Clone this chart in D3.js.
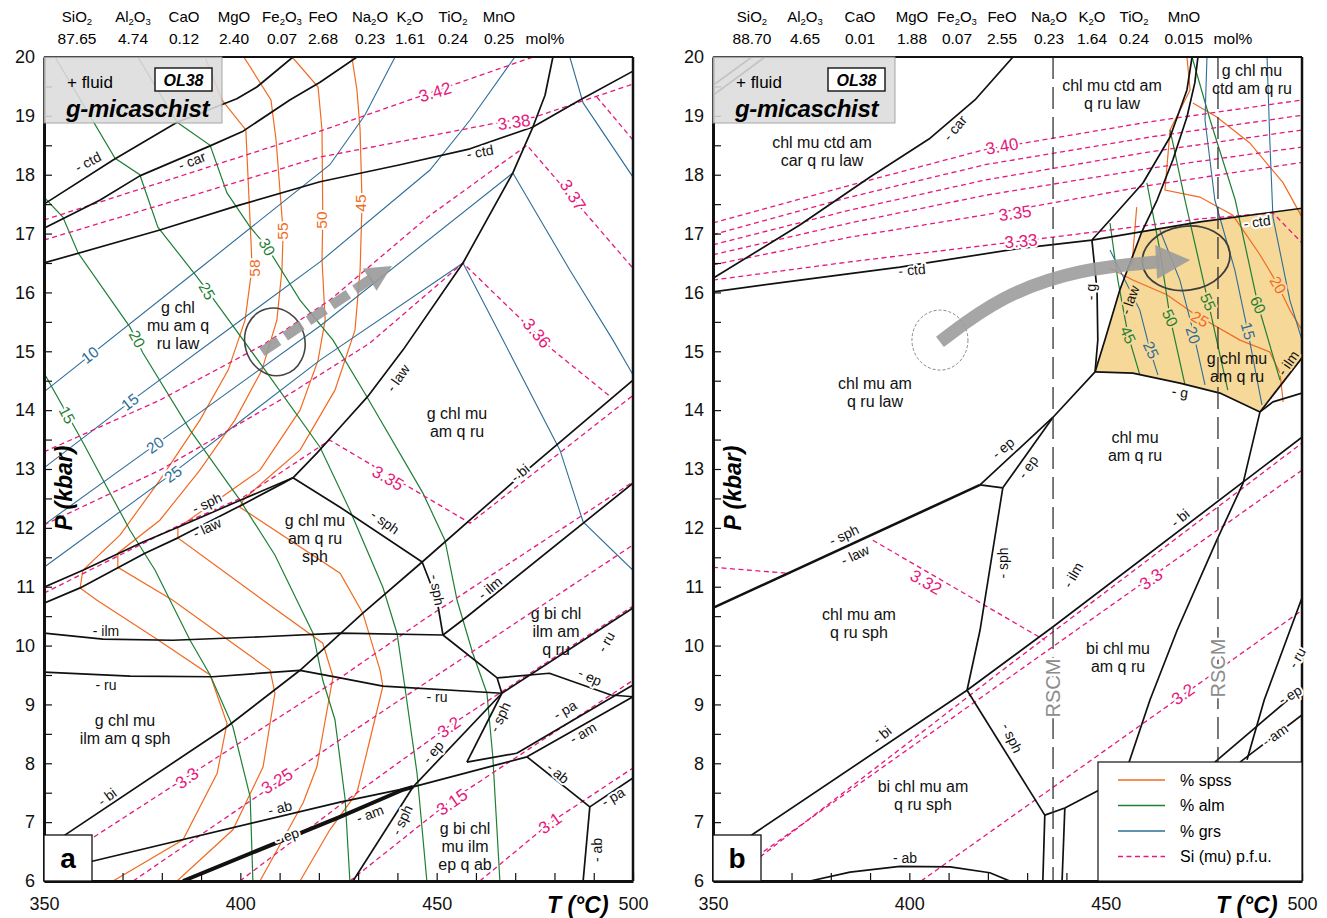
<!DOCTYPE html>
<html>
<head>
<meta charset="utf-8">
<title>OL38 pseudosections</title>
<script src="https://cdn.jsdelivr.net/npm/d3@7.9.0/dist/d3.min.js"></script>
<style>
  body { margin: 0; background: #fff; }
  text { font-family: "Liberation Sans", Arial, sans-serif; }
</style>
</head>
<body>
<svg id="chart" width="1327" height="918"></svg>
<script>
// ========== 数据：T (°C), P (kbar) ==========
const oxides = ['SiO2', 'Al2O3', 'CaO', 'MgO', 'Fe2O3', 'FeO', 'Na2O', 'K2O', 'TiO2', 'MnO'];
const compA = ['87.65', '4.74', '0.12', '2.40', '0.07', '2.68', '0.23', '1.61', '0.24', '0.25'];
const compB = ['88.70', '4.65', '0.01', '1.88', '0.07', '2.55', '0.23', '1.64', '0.24', '0.015'];
const yTicks = d3.range(6, 20.01, 0.5);
const xTicks = d3.range(350, 500.1, 10);

// ---- panel a: phase boundaries ----
const aCtdUp = [[350,17.5],[367.6,18.25],[383.9,18.89],[399.1,19.29],[404.2,19.49],[413.4,20]];
const aCar = [[350,17.09],[364.3,17.57],[374.4,17.98],[392.3,18.49],[400.7,18.74],[412.6,19.27],[420.3,19.57],[429.7,20]];
const aCtd = [[350,16.5],[379.5,17.06],[399.1,17.47],[420.3,17.88],[440.7,18.17],[458.5,18.44],[474.5,18.81],[486.5,19.27],[500,19.76]];
const aLaw = [[413.4,12.85],[419.5,13.27],[425.4,13.71],[432.3,14.22],[441.4,15.02],[456.7,16.5],[469.4,18.03],[474.5,18.81],[477.6,19.35],[479.6,20]];
const aSph1 = [[350,10.99],[359.9,11.28],[375.2,11.76],[384.1,12.01],[400.7,12.49],[413.4,12.85]];
const aLaw1 = [[350,10.72],[359.2,10.98],[375.7,11.57],[384.1,11.83],[400.4,12.39],[410.9,12.76],[413.4,12.85]];
const aSph2 = [[413.4,12.85],[425.4,12.35],[446.3,11.42]];
const aBi = [[350,6.51],[355.3,6.78],[396.6,8.62],[415.2,9.58],[431.2,10.55],[446.3,11.42],[471.2,12.88],[500,14.51]];
const aIlm1 = [[350,10.21],[365,10.11],[382.8,10.09],[405.7,10.15],[425.4,10.21],[451.6,10.18]];
const aSph3 = [[446.3,11.42],[450.1,10.77],[451.6,10.18]];
const aIlm2 = [[451.6,10.18],[457.7,10.49],[500,12.76]];
const aSeg1 = [[451.6,10.18],[465.4,9.45],[466.6,9.19]];
const aRu1 = [[350,9.55],[371.9,9.48],[393,9.47],[415.2,9.58],[425.4,9.45],[436.3,9.31],[466.6,9.19]];
const aEp1 = [[465.4,9.45],[478.7,9.53],[494.4,9.16],[500,9.13]];
const aRu2 = [[466.6,9.19],[500,10.64]];
const aSph4 = [[466.6,9.19],[457.7,8.02]];
const aSeg2 = [[457.7,8.02],[470.4,8.17]];
const aPa1 = [[470.4,8.17],[500,9.33]];
const aAm1 = [[444,7.6],[473,8.11],[500,9.13]];
const aAb1 = [[473,8.11],[489,7.26]];
const aPa2 = [[489,7.26],[500,7.75]];
const aAb2 = [[489,7.26],[487.3,6]];
const aEpAm = [[385.4,6],[425.4,7.09],[441.4,7.55],[444,7.6]];
const aAb3 = [[350,6.14],[425.4,7.34],[444,7.6]];
const aEp2 = [[444,7.6],[466.6,9.19]];
const aSph5 = [[444,7.6],[428.7,6]];

// ---- panel a: Si (mu) p.f.u. ----
const aSi342 = [[350,17.23],[420.3,18.74],[474.5,20]];
const aSi338 = [[350,16.89],[420.3,18.3],[466.1,18.89],[475,18.98],[500,19.54]];
const aSiTop = [[490.8,19.32],[500,18.59]];
const aSi337 = [[350,13.29],[379.5,14.17],[405.8,15.11],[422.8,15.87],[448.3,17.31],[473,18.5],[500,16.41]];
const aSi336 = [[350,12.05],[379.5,12.98],[410.1,14.17],[433,15.14],[456.7,16.5],[479.6,15.02],[494.6,14.21]];
const aSi335 = [[350,10.89],[384.6,12.05],[400.7,12.52],[422.8,13.49],[458.5,12.08],[500,14.25]];
const aSi33 = [[350,6.2],[425.4,9.45],[446.5,10.43],[500,12.78]];
const aSi325 = [[372.7,6],[425.4,8.4],[500,11.71]];
const aSi32 = [[399.9,6],[425.4,7.29],[452.9,8.62],[500,10.67]];
const aSi315 = [[427.9,6],[453.9,7.38],[500,9.41]];
const aSi31 = [[461,6],[478.9,6.99],[500,7.92]];

// ---- panel a: garnet isopleths ----
const aSp58 = [[391,20],[395.3,19.27],[401.4,18.76],[402.5,17.18],[403,16.43],[401.2,15.53],[396.9,14.68],[389.7,13.83],[379.5,12.81],[369.4,11.88],[359.9,11.28],[359.2,10.98],[363.5,10.77],[378.3,10.13],[392.3,9.5],[396.6,8.68],[394.1,7.83],[385.4,6.7],[367.6,6]];
const aSp55 = [[400.9,20],[407.8,19.27],[409.1,18.59],[410.9,17.03],[410.6,16.38],[409.3,15.53],[405.5,14.68],[398.6,13.83],[389.7,12.98],[379.5,12.13],[368.8,11.57],[368.8,11.33],[382.8,10.77],[407.6,9.58],[408.8,9.19],[405.8,7.94],[398.1,6.87],[383.9,6]];
const aSp50 = [[413.2,20],[419.8,19.49],[420.8,18.76],[421,17.26],[420.8,16.55],[421.6,15.53],[419.8,14.85],[415.2,14],[405,12.98],[384.1,12],[384.1,11.83],[405.8,10.77],[421,10.04],[423.6,9.47],[419.5,7.94],[416,7.33],[405,6]];
const aSp45 = [[428.4,20],[429.7,19.44],[430.5,18.76],[431,17.52],[430.5,16.38],[429.2,15.36],[424.1,14.34],[415.2,13.32],[406.3,12.81],[400.7,12.47],[399.9,12.35],[425.4,11.23],[431.2,10.55],[435.6,9.58],[436.3,9.31],[433,8.4],[429.7,7.5],[422.8,6.87],[415.2,6]];
const aAlm15 = [[350,14.63],[359.2,13.54],[371.9,11.96],[378.3,11.28],[382.1,10.77],[387.2,10.09],[392.3,9.5],[398.1,8.62],[402.5,7.43],[403.2,6]];
const aAlm20 = [[350,17.62],[354.8,17.28],[358.7,16.67],[371.9,15.41],[375.2,14.97],[387.2,13.66],[399.9,12.47],[408.8,11.54],[414.4,10.77],[418.5,10.21],[421,9.41],[424.1,8.74],[426.7,7.38],[427.9,6]];
const aAlm25 = [[352.8,20],[368.1,18.28],[374.4,18],[379,17.11],[389,16.26],[391.5,16.04],[406.3,14.68],[420.3,13.37],[427.9,12.3],[436.3,10.99],[439.9,10.21],[441.9,9.3],[445,7.83],[447.5,6]];
const aAlm30 = [[373.9,20],[383.9,18.89],[392.3,18.5],[396.6,17.69],[402.5,17.11],[406.8,16.77],[415.2,15.87],[423.6,15.19],[432.3,14.22],[446.5,12.59],[452.1,11.79],[455.2,10.77],[459.2,9.87],[462.8,9.19],[464.3,8.11],[466.1,6]];
const aGrs10 = [[350,14.31],[389.7,16.41],[422.8,18.17],[431.7,19.01],[439.4,20]];
const aGrs15 = [[350,13.02],[371.9,14.14],[420.3,16.52],[448.3,18.08],[458.5,18.93],[469.9,20]];
const aGrs20 = [[350,12.05],[378.3,13.41],[420.3,15.43],[469.4,18.03]];
const aGrs25 = [[350,11.33],[382.8,12.93],[420.3,14.85],[456.7,16.5]];
const aGrsR1 = [[483.9,20],[487.3,19.22],[500,17.96]];
const aGrsR2 = [[469.4,18.03],[483.9,16.38],[494.9,15.19],[500,14.6]];
const aGrsR3 = [[456.7,16.5],[466.9,15.19],[481.4,13.32],[487.3,12.1],[500,11.28]];

// ---- panel b: phase boundaries ----
const bCar = [[350,16.24],[372.2,17.15],[390,17.96],[405.3,18.62],[416.7,19.27],[426.4,20]];
const bCtd = [[350,16.01],[372.2,16.21],[397.6,16.43],[428.2,16.75],[446.5,16.89],[474,17.2],[500,17.43]];
const bCurveL = [[446.5,16.89],[451.1,17.23],[459.5,17.86],[466.4,18.64],[470.7,19.44],[472,20]];
const bCurveR = [[459.2,17.03],[463.1,17.57],[467.1,18.25],[470.7,18.98],[472.7,19.56],[473.5,20]];
const bG1 = [[446.5,16.89],[447.8,16.04],[448,15.19],[447.3,14.65]];
const bLaw = [[459.2,17.03],[453.6,16.04],[449.8,15.19],[447.3,14.65]];
const bG2 = [[447.3,14.65],[456.9,14.63],[468.9,14.46],[479.1,14.29],[489.3,13.97]];
const bIlm = [[489.3,13.97],[500,14.89]];
const bSeg = [[489.3,13.97],[492.6,14.14],[500,14.29]];
const bLine7 = [[489.3,13.97],[485,12.76],[478.3,11.79],[468.2,10.26],[461.3,9.08],[453.6,7.55],[451.1,6]];
const bEp1 = [[447.3,14.65],[436.6,13.88],[418,12.73]];
const bEp2 = [[436.6,13.88],[423.8,12.68]];
const bSeg2 = [[418,12.73],[423.8,12.68]];
const bSphLaw = [[350,10.64],[418,12.73]];
const bSph1 = [[423.8,12.68],[418,10.26],[414.7,9.24]];
const bBi = [[350,6.32],[360.7,6.82],[414.7,9.24],[436.6,10.32],[500,13.54]];
const bSph2 = [[414.7,9.24],[434.5,7.12]];
const bLow1 = [[434.5,7.12],[434,6]];
const bLow2 = [[434.5,7.12],[439.6,7.24],[448.5,7.55]];
const bLow3 = [[439.6,7.24],[438.9,6]];
const bRu = [[500,10.81],[490.4,9.08],[486,8.06]];
const bEp3 = [[500,9.28],[477.8,8.02]];
const bAm = [[500,8.82],[484.2,8.02]];
const bAb = [[374.7,6],[384.9,6.15],[397.6,6.25],[410.4,6.24],[420.5,6.14],[425.6,6]];
const bFl1 = [[350,19.35],[363.2,20]];
const bFl2 = [[350,19.52],[359.9,20]];
const bField = [[459.2,17.03],[474,17.2],[500,17.43],[500,14.89],[489.3,13.97],[479.1,14.29],[468.9,14.46],[456.9,14.63],[447.3,14.65],[449.8,15.19],[453.6,16.04]];

// ---- panel b: Si (mu) p.f.u. ----
const bSi340 = [[350,17.18],[384.9,17.82],[418.8,18.42],[461.3,18.9],[500,19.27]];
const bSi339 = [[350,16.98],[384.9,17.62],[419.3,18.17],[461.3,18.64],[500,19.01]];
const bSi338 = [[350,16.81],[384.9,17.4],[419.3,17.91],[461.3,18.39],[500,18.76]];
const bSi337 = [[350,16.64],[384.9,17.18],[419.3,17.65],[461.3,18.11],[500,18.47]];
const bSi335 = [[350,16.47],[384.9,16.94],[423.1,17.36],[461.3,17.82],[500,18.21]];
const bSi333 = [[350,16.21],[384.9,16.52],[428.2,16.87],[474,17.25],[492.6,17.35],[500,16.84]];
const bSi332a = [[350,11.33],[368.8,11.23]];
const bSi332b = [[390.7,11.79],[434.5,10.09]];
const bSiBi = [[362,6.41],[423.1,9.55],[500,13.44]];
const bSi33 = [[352.3,6],[397.6,8.14],[461.3,11.15],[500,12.98]];
const bSi32 = [[403,6],[469.7,9.16],[500,10.6]];

// ---- panel b: garnet isopleths ----
const bSpA = [[472.2,19.22],[478.3,18.98],[486.7,18.54],[495.2,17.86],[500,17.28]];
const bSp20 = [[470.7,20],[471.5,19.44],[466.4,18.76],[465.1,17.74],[474,17.62],[482.4,17.31],[489.3,16.64],[493.6,16.16],[496.9,15.7],[500,15.36]];
const bSp25 = [[451.1,16.41],[456.9,16.21],[465.6,15.96],[472.2,15.65],[484.2,15.19],[491.8,14.99],[494.4,14.63],[495.2,14.14]];
const bSpThin = [[457.9,17.45],[456.7,16.47]];
const bAlm45 = [[451.1,17.18],[453.1,16.21],[455.7,15.28],[458.7,14.6]];
const bAlm50 = [[460.5,17.86],[463.8,16.72],[466.4,15.57],[470.2,14.43]];
const bAlm55 = [[466.4,18.76],[470.2,17.57],[476.1,15.84],[481.1,14.34]];
const bAlm60 = [[472,20],[476.6,18.93],[483,17.57],[488.8,15.79],[494.4,14.51]];
const bGrs15 = [[475.8,20],[475.3,18.93],[477.8,17.57],[482.9,16.38],[486.2,15.34],[489.8,14.09]];
const bGrs20 = [[463.8,17.06],[468.9,16.21],[472.2,15.36],[475.3,14.43]];
const bGrs25 = [[451.1,16.72],[458.7,15.7],[461.3,15.02],[463.3,14.6]];
const bGrsR = [[491.1,20],[491.8,18.59],[492.6,17.28],[496.9,15.87],[500,15.19]];
const bRscm = [436.6, 478.6];

// ---- 路径 / 椭圆 ----
const aPath = [[405.5,14.99],[433.5,16.24]];
const aTip = [438.6,16.45];
const aEll = [408.8,15.16];
const bPath = [[407.8,15.16],[423.1,15.94],[443.5,16.41],[463.8,16.52]];
const bTip = [471.5,16.55];
const bEll = [470.5,16.58];
const bEllOld = [407.8,15.19];

// ---- 文字标注（画面像素位置） ----
const fieldsA = [
  [['g chl', 'mu am q', 'ru law'], 178, 307],
  [['g chl mu', 'am q ru'], 457, 413],
  [['g chl mu', 'am q ru', 'sph'], 315, 520],
  [['g chl mu', 'ilm am q sph'], 125, 720],
  [['g bi chl', 'ilm am', 'q ru'], 556, 613],
  [['g bi chl', 'mu ilm', 'ep q ab'], 465, 828],
];
const fieldsB = [
  [['chl mu ctd am', 'car q ru law'], 822, 142],
  [['chl mu ctd am', 'q ru law'], 1112, 85],
  [['g chl mu', 'ctd am q ru'], 1252, 70],
  [['chl mu am', 'q ru law'], 875, 383],
  [['chl mu', 'am q ru'], 1135, 437],
  [['g chl mu', 'am q ru'], 1237, 358],
  [['chl mu am', 'q ru sph'], 859, 614],
  [['bi chl mu', 'am q ru'], 1118, 648],
  [['bi chl mu am', 'q ru sph'], 923, 786],
];
const rxnA = [
  ['- ctd',88,162,-28],['- car',192,161,-22],['- ctd',480,152,-10],['- law',398,378,-55],
  ['- sph',207,503,-25],['- law',207,528,-25],['- sph',385,522,35],['- bi',107,797,-37],
  ['- bi',520,473,-40],['- ilm',490,588,-40],['- sph',437,590,80],['- ilm',106,631,0],
  ['- ru',106,685,0],['- ru',437,697,0],['- ep',590,677,25],['- ru',606,642,-60],
  ['- sph',500,717,-65],['- pa',565,710,-30],['- am',583,733,-30],['- ab',558,773,40],
  ['- pa',613,797,-30],['- ab',597,850,-90],['- ep',433,752,-50],['- am',370,814,-20],
  ['- sph',402,820,-65],['- ab',280,808,-13],['- ep',287,836,-20],
];
const rxnB = [
  ['- car',955,128,-50],['- ctd',912,270,-5],['- ctd',1257,222,-8],['- g',1091,292,-90],
  ['- law',1130,300,-70],['- g',1180,392,8],['- ilm',1288,363,-55],['- ep',1003,448,-40],
  ['- ep',1028,467,-55],['- sph',844,535,-25],['- law',855,555,-25],['- sph',1003,563,-90],
  ['- bi',1180,518,-40],['- bi',882,735,-40],['- ilm',1073,575,-60],['- sph',1012,738,65],
  ['- ab',905,858,0],['- ru',1297,658,-60],['- ep',1290,695,-30],['- am',1275,735,-35],
];
const siLabA = [['3.42',435,92,-17],['3.38',514,122,-8],['3.37',573,195,57],['3.36',537,333,50],['3.35',388,478,30],
  ['3.3',187,778,-35],['3.25',277,781,-32],['3.2',449,727,-35],['3.15',452,802,-35],['3.1',550,823,-35]];
const siLabB = [['3.40',1002,146,-10],['3.35',1015,213,-8],['3.33',1021,241,-5],['3.32',926,582,30],['3.3',1151,579,-35],['3.2',1183,694,-35]];
const isoLabA = [
  ['58',255,268,-90,'spss'],['55',283,231,-90,'spss'],['50',322,220,-90,'spss'],['45',361,203,-90,'spss'],
  ['15',67,415,62,'alm'],['20',137,339,62,'alm'],['25',207,291,60,'alm'],['30',267,247,60,'alm'],
  ['10',90,355,-38,'grs'],['15',130,402,-38,'grs'],['20',155,445,-36,'grs'],['25',173,474,-36,'grs'],
];
const isoLabB = [
  ['20',1278,285,60,'spss'],['25',1200,319,30,'spss'],
  ['45',1128,335,65,'alm'],['50',1170,318,65,'alm'],['55',1208,302,65,'alm'],['60',1258,305,65,'alm'],
  ['15',1248,331,75,'grs'],['20',1193,335,72,'grs'],['25',1151,350,65,'grs'],
];
const legendItems = [['% spss','spss'],['% alm','alm'],['% grs','grs'],['Si (mu) p.f.u.','si']];

// ========== 样式 ==========
const COL = { spss: '#f26a21', alm: '#1f7f35', grs: '#2f6d98', si: '#e5197d' };
const FIELD = '#f6d898';
const W = 589;
const svg = d3.select('#chart');

function chem(text, s) {
  const parts = s.match(/\d+|\D+/g);
  let low = false;
  parts.forEach((p) => {
    const isNum = /\d/.test(p);
    const t = text.append('tspan').text(p);
    if (isNum) { t.attr('font-size', 9.5).attr('dy', 3); low = true; }
    else if (low) { t.attr('dy', -3); low = false; }
  });
}

function drawPanel(cfg) {
  const x = d3.scaleLinear().domain([350, 500]).range([cfg.x0, cfg.x0 + W]);
  const y = d3.scaleLinear().domain([6, 20]).range([881, 57]);
  const line = d3.line().x((d) => x(d[0])).y((d) => y(d[1]));
  const g = svg.append('g');
  const clipId = 'clip-' + cfg.tag;
  svg.append('defs').append('clipPath').attr('id', clipId)
    .append('rect').attr('x', cfg.x0).attr('y', 57).attr('width', W).attr('height', 824);
  const plot = g.append('g').attr('clip-path', `url(#${clipId})`);

  if (cfg.field) {
    plot.append('path').attr('d', line(cfg.field) + 'Z').attr('fill', FIELD).attr('stroke', 'none');
  }
  const iso = (arr, key, w) => plot.append('g').selectAll('path').data(arr).join('path')
    .attr('d', line).attr('fill', 'none').attr('stroke', COL[key]).attr('stroke-width', w);
  iso(cfg.spss, 'spss', 1.2);
  iso(cfg.alm, 'alm', 1.2);
  iso(cfg.grs, 'grs', 1.1);
  iso(cfg.si, 'si', 1.3).attr('stroke-dasharray', '5,3.5');

  plot.append('g').selectAll('path').data(cfg.black).join('path')
    .attr('d', line).attr('fill', 'none').attr('stroke', '#111').attr('stroke-width', 1.7)
    .attr('stroke-linejoin', 'round');
  plot.append('g').selectAll('path').data(cfg.thick).join('path')
    .attr('d', line).attr('fill', 'none').attr('stroke', '#111').attr('stroke-width', cfg.thickW);

  // RSCM 温度
  if (cfg.rscm) {
    plot.append('g').selectAll('line').data(cfg.rscm).join('line')
      .attr('x1', (d) => x(d)).attr('x2', (d) => x(d)).attr('y1', y(20)).attr('y2', y(6))
      .attr('stroke', '#333').attr('stroke-width', 1.3).attr('stroke-dasharray', '22,8');
  }

  // 椭圆 + 路径箭头
  cfg.ellipses.forEach((e) => {
    plot.append('ellipse').attr('cx', x(e.c[0])).attr('cy', y(e.c[1]))
      .attr('rx', e.rx).attr('ry', e.ry)
      .attr('transform', `rotate(${e.rot},${x(e.c[0])},${y(e.c[1])})`)
      .attr('fill', 'none').attr('stroke', e.color).attr('stroke-width', e.w)
      .attr('stroke-dasharray', e.dash || null);
  });
  const ar = cfg.arrow;
  const shaft = d3.line().x((d) => x(d[0])).y((d) => y(d[1])).curve(d3.curveBasis);
  plot.append('path').attr('d', shaft(ar.path)).attr('fill', 'none').attr('stroke', ar.color)
    .attr('stroke-width', ar.w).attr('stroke-dasharray', ar.dash || null).attr('opacity', 0.9);
  const last = ar.path[ar.path.length - 1];
  const tx = x(ar.tip[0]), ty = y(ar.tip[1]);
  const dx = tx - x(last[0]), dy = ty - y(last[1]);
  const len = Math.hypot(dx, dy), ux = dx / len, uy = dy / len;
  const bx = tx - ux * ar.hl, by = ty - uy * ar.hl;
  plot.append('path')
    .attr('d', `M${tx},${ty}L${bx - uy * ar.hw},${by + ux * ar.hw}L${bx + uy * ar.hw},${by - ux * ar.hw}Z`)
    .attr('fill', ar.color).attr('opacity', 0.9);

  // 组成标题
  oxides.forEach((ox, i) => {
    const t = svg.append('text').attr('x', cfg.oxX[i]).attr('y', 22).attr('text-anchor', 'middle')
      .attr('font-size', 15);
    chem(t, ox);
    svg.append('text').attr('x', cfg.oxX[i]).attr('y', 44).attr('text-anchor', 'middle')
      .attr('font-size', 15.5).text(cfg.comp[i]);
  });
  svg.append('text').attr('x', cfg.molX).attr('y', 44).attr('text-anchor', 'middle')
    .attr('font-size', 15.5).text('mol%');

  // 坐标轴
  const yAxis = d3.axisLeft(y).tickValues(yTicks).tickSizeInner(-8).tickSizeOuter(0)
    .tickPadding(9).tickFormat((d) => (Number.isInteger(d) ? d : ''));
  const ya = svg.append('g').attr('transform', `translate(${cfg.x0},0)`).call(yAxis);
  const xAxis = d3.axisBottom(x).tickValues(xTicks).tickSizeInner(-8).tickSizeOuter(0)
    .tickPadding(16).tickFormat((d) => (d % 50 === 0 ? d : ''));
  const xa = svg.append('g').attr('transform', 'translate(0,881)').call(xAxis);
  [ya, xa].forEach((a) => {
    a.selectAll('text').attr('font-size', 18).attr('fill', '#111')
      .style('font-family', '"Liberation Sans", Arial, sans-serif');
    a.selectAll('.tick line').attr('stroke', '#111').attr('stroke-width', 1.2);
    a.select('.domain').attr('stroke', '#111').attr('stroke-width', 3);
  });
  svg.append('line').attr('x1', cfg.x0).attr('x2', cfg.x0 + W).attr('y1', 57).attr('y2', 57)
    .attr('stroke', '#111').attr('stroke-width', 2.2);
  svg.append('line').attr('x1', cfg.x0 + W).attr('x2', cfg.x0 + W).attr('y1', 57).attr('y2', 881)
    .attr('stroke', '#111').attr('stroke-width', 2.5);

  svg.append('text').attr('x', cfg.x0 + 503).attr('y', 913).attr('font-size', 23)
    .attr('font-weight', 700).attr('font-style', 'italic').text('T (°C)');
  svg.append('text').attr('transform', `translate(${cfg.x0 + 28},488) rotate(-90)`)
    .attr('text-anchor', 'middle').attr('font-size', 23).attr('font-weight', 700)
    .attr('font-style', 'italic').text('P (kbar)');

  // 左上角样品框
  svg.append('rect').attr('x', cfg.x0).attr('y', 57).attr('width', cfg.boxW).attr('height', 66)
    .attr('fill', '#dcdcdc').attr('stroke', '#9a9a9a').attr('stroke-width', 1).attr('opacity', 0.88);
  svg.append('text').attr('x', cfg.x0 + 23).attr('y', 88).attr('font-size', 17).text('+ fluid');
  svg.append('rect').attr('x', cfg.x0 + cfg.boxW - 67).attr('y', 68).attr('width', 57).attr('height', 23)
    .attr('fill', '#fff').attr('stroke', '#111').attr('stroke-width', 1.4);
  svg.append('text').attr('x', cfg.x0 + cfg.boxW - 38.5).attr('y', 86).attr('text-anchor', 'middle')
    .attr('font-size', 16).attr('font-weight', 700).attr('font-style', 'italic').text('OL38');
  svg.append('text').attr('x', cfg.x0 + 22).attr('y', 117).attr('font-size', 24)
    .attr('font-weight', 700).attr('font-style', 'italic').attr('letter-spacing', -0.3).text('g-micaschist');

  // a / b 标签框
  svg.append('rect').attr('x', cfg.x0).attr('y', 835).attr('width', 48).attr('height', 46)
    .attr('fill', '#fff').attr('stroke', '#111').attr('stroke-width', 1.3);
  svg.append('text').attr('x', cfg.x0 + 24).attr('y', 868).attr('text-anchor', 'middle')
    .attr('font-size', 28).attr('font-weight', 700).text(cfg.tag);
}

function drawLabels(fields, rxn, siLab, isoLab, haloFn) {
  fields.forEach(([lines, cx, cy]) => {
    const t = svg.append('text').attr('text-anchor', 'middle').attr('font-size', 16).attr('fill', '#111');
    lines.forEach((s, i) => t.append('tspan').attr('x', cx).attr('y', cy + i * 18).attr('dy', '0.35em').text(s));
  });
  const put = (arr, size, color, halo) => arr.forEach(([s, lx, ly, rot, key]) => {
    svg.append('text').attr('transform', `translate(${lx},${ly}) rotate(${rot})`)
      .attr('text-anchor', 'middle').attr('dy', '0.35em').attr('font-size', size)
      .attr('fill', key ? COL[key] : color)
      .attr('stroke', haloFn(lx, ly) || halo).attr('stroke-width', 4).attr('paint-order', 'stroke')
      .attr('stroke-linejoin', 'round').text(s);
  });
  put(rxn, 14, '#111', '#fff');
  put(siLab, 17, COL.si, '#fff');
  put(isoLab, 15.5, null, '#fff');
}

drawPanel({
  tag: 'a', x0: 44, oxX: [77,133,184,234,282,323,370,410,453,499], molX: 545, comp: compA, boxW: 178,
  spss: [aSp58, aSp55, aSp50, aSp45],
  alm: [aAlm15, aAlm20, aAlm25, aAlm30],
  grs: [aGrs10, aGrs15, aGrs20, aGrs25, aGrsR1, aGrsR2, aGrsR3],
  si: [aSi342, aSi338, aSiTop, aSi337, aSi336, aSi335, aSi33, aSi325, aSi32, aSi315, aSi31],
  black: [aCtdUp, aCar, aCtd, aLaw, aSph1, aLaw1, aSph2, aBi, aIlm1, aSph3, aIlm2, aSeg1, aRu1, aEp1,
    aRu2, aSph4, aSeg2, aPa1, aAm1, aAb1, aPa2, aAb2, aAb3, aEp2, aSph5],
  thick: [aEpAm], thickW: 4,
  ellipses: [{ c: aEll, rx: 30, ry: 34, rot: -15, color: '#444', w: 1.6 }],
  arrow: { path: aPath, tip: aTip, color: '#999', w: 10, dash: '20,8', hl: 26, hw: 13 },
});
drawPanel({
  tag: 'b', x0: 713, oxX: [752,805,860,912,957,1002,1049,1092,1134,1184], molX: 1233, comp: compB, boxW: 182,
  field: bField,
  spss: [bSpA, bSp20, bSp25, bSpThin],
  alm: [bAlm45, bAlm50, bAlm55, bAlm60],
  grs: [bGrs15, bGrs20, bGrs25, bGrsR],
  si: [bSi340, bSi339, bSi338, bSi337, bSi335, bSi333, bSi332a, bSi332b, bSiBi, bSi33, bSi32],
  black: [bCar, bCtd, bCurveL, bCurveR, bG1, bLaw, bG2, bIlm, bSeg, bLine7, bEp1, bEp2, bSeg2, bSph1,
    bBi, bSph2, bLow1, bLow2, bLow3, bRu, bEp3, bAm, bAb, bFl1, bFl2],
  thick: [bSphLaw], thickW: 2.6,
  rscm: bRscm,
  ellipses: [
    { c: bEll, rx: 44, ry: 32, rot: -8, color: '#3d3d3d', w: 1.8 },
    { c: bEllOld, rx: 28, ry: 30, rot: 0, color: '#888', w: 1, dash: '3,2' },
  ],
  arrow: { path: bPath, tip: bTip, color: '#9c9c9c', w: 13, hl: 34, hw: 17 },
});

const inField = (lx, ly) => (lx > 1100 && lx < 1302 && ly > 225 && ly < 378 ? FIELD : null);
drawLabels(fieldsA, rxnA, siLabA, isoLabA, () => null);
drawLabels(fieldsB, rxnB, siLabB, isoLabB, inField);

// RSCM 文字
[[1053, 688], [1218, 668]].forEach(([lx, ly]) => {
  svg.append('text').attr('transform', `translate(${lx},${ly}) rotate(-90)`).attr('text-anchor', 'middle')
    .attr('dy', '0.35em').attr('font-size', 20).attr('fill', '#8c8c8c')
    .attr('stroke', '#fff').attr('stroke-width', 5).attr('paint-order', 'stroke').text('RSCM');
});

// 图例
const lg = svg.append('g').attr('transform', 'translate(1098,762)');
lg.append('rect').attr('width', 204).attr('height', 119).attr('fill', '#fff').attr('stroke', '#111').attr('stroke-width', 1.2);
legendItems.forEach(([s, key], i) => {
  lg.append('line').attr('x1', 20).attr('x2', 67).attr('y1', 18 + i * 25.5).attr('y2', 18 + i * 25.5)
    .attr('stroke', COL[key]).attr('stroke-width', 1.4).attr('stroke-dasharray', key === 'si' ? '5,3.5' : null);
  lg.append('text').attr('x', 82).attr('y', 18 + i * 25.5).attr('dy', '0.35em').attr('font-size', 16).text(s);
});
</script>
</body>
</html>
